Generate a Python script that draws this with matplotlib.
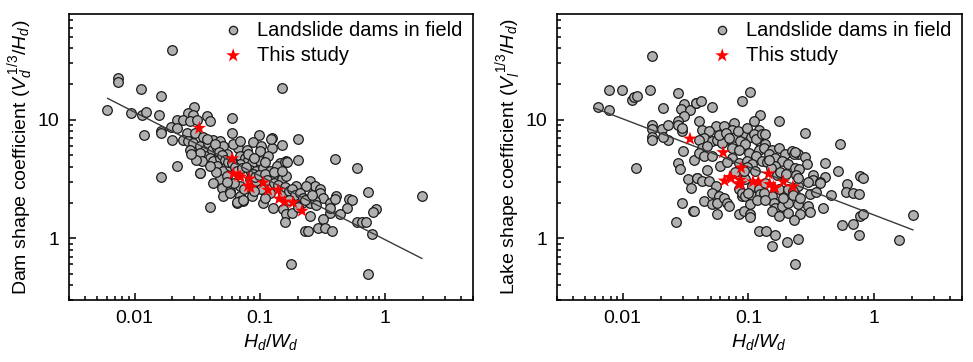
import numpy as np
import matplotlib
matplotlib.use("Agg")
import matplotlib.pyplot as plt
from matplotlib.ticker import LogLocator, FuncFormatter, NullFormatter

plt.rcParams['font.family'] = ['Liberation Sans', 'DejaVu Sans']
plt.rcParams['mathtext.fontset'] = 'custom'
plt.rcParams['mathtext.rm'] = 'Liberation Sans'
plt.rcParams['mathtext.it'] = 'Liberation Sans:italic'

# ---- left panel: dam shape coefficient ----
dam_field_x = [0.02, 0.0074, 0.0074, 0.0113, 0.0164, 0.15, 0.006, 0.0093, 0.0115, 0.0123, 0.0158,
               0.022, 0.0197, 0.022, 0.0162, 0.0162, 0.012, 0.0198, 0.0217, 0.0164, 0.033, 0.04,
               0.0299, 0.0269, 0.0295, 0.0245, 0.0277, 0.0313, 0.0377, 0.040, 0.0596, 0.0261, 0.0304,
               0.0245, 0.0269, 0.0295, 0.0277, 0.0596, 0.0988, 0.124, 0.0875, 0.103, 0.124, 0.0333,
               0.0365, 0.0425, 0.0481, 0.0388, 0.0412, 0.0452, 0.051, 0.0365, 0.040, 0.0333, 0.0343,
               0.0425, 0.0481, 0.0543, 0.0673, 0.0694, 0.0783, 0.100, 0.076, 0.0808, 0.0859, 0.100,
               0.1165, 0.144, 0.163, 0.0333, 0.0452, 0.051, 0.0577, 0.0694, 0.0833, 0.094, 0.106,
               0.120, 0.136, 0.0481, 0.0543, 0.0425, 0.0495, 0.0577, 0.0694, 0.0833, 0.094, 0.113,
               0.128, 0.149, 0.163, 0.051, 0.0694, 0.0859, 0.103, 0.120, 0.153,
               0.25, 0.274, 0.30, 0.235, 0.196, 0.30, 0.319, 0.36, 0.407, 0.196, 0.215, 0.25, 0.274,
               0.36, 0.25, 0.319, 0.291, 0.329, 0.228, 0.243, 0.0694, 0.0652, 0.0737, 0.106, 0.128,
               0.153, 0.163, 0.179, 0.158, 0.0577, 0.066, 0.074,
               0.177, 0.736, 1.97, 0.736, 0.85, 0.8, 0.78, 0.594, 0.395, 0.2, 0.158, 0.165, 0.15,
               0.2, 0.123, 0.514, 0.546, 0.395, 0.495, 0.439, 0.595, 0.656, 0.698, 0.379, 0.36,
               0.035, 0.038, 0.044, 0.047, 0.050, 0.053, 0.056, 0.060, 0.063, 0.066, 0.072, 0.078,
               0.088, 0.092, 0.098, 0.110, 0.115, 0.130, 0.140, 0.160, 0.170, 0.180, 0.190, 0.210,
               0.220, 0.230, 0.260, 0.280, 0.200, 0.170, 0.110, 0.090, 0.075, 0.062, 0.055, 0.045,
               0.040, 0.031, 0.028, 0.061, 0.070, 0.080, 0.090, 0.110, 0.130, 0.150]
dam_field_y = [39, 22.5, 21, 18.3, 15.8, 18.5, 12.2, 11.3, 10.9, 11.6, 10.9,
               10, 8.7, 8.5, 8.0, 7.7, 7.4, 6.8, 4.05, 3.3, 3.55, 1.85,
               12.8, 11.4, 11.0, 10.0, 9.7, 10.0, 10.8, 9.7, 10.3, 7.7, 7.7,
               6.8, 6.6, 6.4, 5.6, 7.7, 7.5, 7.0, 6.45, 6.0, 5.8, 6.0,
               5.6, 6.8, 6.6, 6.4, 5.6, 5.8, 6.0, 4.9, 4.8, 5.25, 4.5,
               4.5, 4.8, 5.1, 5.8, 4.9, 5.6, 5.4, 4.8, 4.6, 4.3, 4.5,
               4.9, 4.3, 4.5, 3.56, 4.06, 3.68, 4.06, 4.2, 3.8, 3.68, 3.93,
               3.68, 4.06, 3.13, 3.34, 2.94, 2.67, 2.5, 2.75, 3.13, 3.03, 3.24,
               3.13, 3.13, 3.34, 2.27, 2.27, 2.27, 2.58, 2.42, 2.34,
               3.03, 2.75, 2.58, 2.75, 2.75, 2.42, 2.2, 2.0, 2.27, 2.06, 2.0, 2.0, 2.06,
               1.64, 1.54, 1.45, 1.23, 1.23, 1.15, 1.15, 2.06, 2.0, 2.06, 2.0, 1.81,
               1.75, 1.59, 1.64, 1.36, 2.42, 2.03, 2.1,
               0.60, 0.50, 2.27, 2.45, 1.75, 1.65, 1.08, 3.93, 4.67, 4.55, 4.4, 4.4, 6.1,
               6.9, 6.9, 2.15, 2.1, 2.13, 1.79, 1.59, 1.38, 1.38, 1.38, 1.15, 1.8,
               7.2, 6.9, 6.2, 5.3, 5.0, 4.6, 4.4, 4.3, 4.0, 3.7, 3.9, 4.0,
               3.5, 3.3, 3.4, 3.5, 3.1, 2.9, 2.8, 2.7, 2.5, 2.6, 2.3, 2.4,
               2.2, 2.1, 2.3, 1.9, 1.85, 2.1, 2.2, 2.5, 2.6, 2.9, 3.0, 3.6,
               4.1, 4.6, 5.1, 6.2, 6.6, 5.1, 4.8, 4.4, 3.6, 3.7]
dam_study_x = [0.0329, 0.0603, 0.0614, 0.0673, 0.0702, 0.0822, 0.0807, 0.0843, 0.1064, 0.1165,
               0.140, 0.1426, 0.158, 0.184, 0.217]
dam_study_y = [8.5, 4.7, 3.5, 3.38, 3.3, 3.17, 2.75, 2.67, 2.94, 2.55,
               2.55, 2.15, 2.03, 2.0, 1.70]
dam_fit = (0.97, -0.539)        # y = a * x**b
dam_fit_range = (0.0061, 1.96)

# ---- right panel: lake shape coefficient ----
lake_field_x = [0.0171, 0.0078, 0.0098, 0.0119, 0.0122, 0.0130, 0.0166, 0.0274, 0.031, 0.0291,
                0.0343, 0.0383, 0.031, 0.0063, 0.0078, 0.0209, 0.017, 0.017, 0.017, 0.017, 0.0206,
                0.0228, 0.0228, 0.0209, 0.0274, 0.0274, 0.0297, 0.0297, 0.0304, 0.0274, 0.0286,
                0.0127, 0.0329, 0.035, 0.0387, 0.0297, 0.036, 0.0266, 0.0372,
                0.1037, 0.038, 0.0417, 0.0515, 0.0891, 0.0405, 0.0548, 0.0638, 0.0766, 0.1245, 0.110,
                0.121, 0.174, 0.0743, 0.0789, 0.0918, 0.104, 0.043, 0.0485, 0.0443, 0.0405, 0.0515,
                0.0565, 0.0652, 0.062, 0.0865, 0.0947, 0.121, 0.136, 0.121, 0.132, 0.154, 0.174,
                0.196, 0.222, 0.25, 0.0743, 0.084, 0.1007, 0.114, 0.145, 0.164, 0.185, 0.043, 0.0471,
                0.0405, 0.0443, 0.0515, 0.0743, 0.084, 0.0977, 0.107, 0.128, 0.164, 0.208, 0.236,
                0.0471, 0.0392, 0.043, 0.0485, 0.0548, 0.084, 0.0947, 0.107, 0.121, 0.136, 0.174,
                0.208, 0.236, 0.25, 0.0515, 0.0582, 0.0891, 0.154,
                0.0443, 0.0515, 0.0565, 0.0638, 0.0678, 0.0698, 0.0565, 0.0369, 0.084, 0.0918, 0.1037,
                0.1037, 0.0891, 0.0947, 0.107, 0.1245, 0.132, 0.1037, 0.159, 0.164, 0.185, 0.208,
                0.154, 0.174, 0.208, 0.25, 0.121, 0.138, 0.164, 0.154, 0.202, 0.247, 0.233,
                0.283, 0.534, 0.23, 0.236, 0.281, 0.294, 0.407, 0.253, 0.24, 0.25, 0.329, 0.329,
                0.407, 0.513, 0.771, 0.819, 0.372, 0.372, 0.30, 0.615, 0.226, 0.226, 0.26, 0.31,
                0.348, 0.30, 0.31, 0.257, 0.395, 0.454, 0.6, 0.685, 0.76, 0.775, 0.82, 0.23,
                0.561, 0.675, 0.76, 1.57, 2.04,
                0.058, 0.066, 0.070, 0.082, 0.097, 0.110, 0.115, 0.128, 0.136, 0.098, 0.112,
                0.142, 0.152, 0.168, 0.180, 0.060, 0.068, 0.078, 0.092, 0.100, 0.118, 0.135,
                0.145, 0.190, 0.200]
lake_field_y = [34.8, 17.9, 17.9, 14.7, 15.5, 15.8, 17.9, 16.7, 13.6, 12.4,
                12.1, 13.8, 10.7, 12.8, 12.2, 12.5, 9.1, 8.4, 7.15, 6.7, 8.4,
                9.0, 6.7, 7.2, 9.7, 9.0, 8.1, 8.5, 5.5, 4.35, 3.85,
                3.9, 3.13, 2.63, 3.2, 2.0, 1.7, 1.36, 4.6,
                17.0, 13.8, 14.3, 12.9, 14.3, 9.7, 8.8, 8.8, 9.38, 11.0, 9.7,
                8.2, 9.7, 8.2, 7.2, 7.7, 7.2, 8.2, 8.0, 7.0, 6.8, 6.6,
                6.8, 6.8, 6.4, 6.6, 6.2, 6.6, 6.2, 5.6, 5.8, 5.6, 5.8,
                5.1, 5.4, 5.1, 5.8, 5.6, 5.25, 4.92, 5.1, 4.77, 4.47, 5.8, 5.97,
                5.25, 4.92, 4.92, 4.77, 4.33, 4.47, 4.19, 4.47, 4.06, 4.19, 3.93,
                3.8, 3.24, 3.03, 3.03, 2.75, 2.58, 3.13, 2.75, 2.58, 2.94, 2.58,
                2.58, 2.34, 2.75, 2.42, 2.27, 2.27, 2.27,
                2.06, 1.93, 2.0, 2.2, 2.0, 1.87, 1.59, 1.70, 1.59, 1.70, 1.59,
                1.5, 2.42, 2.27, 2.27, 2.34, 2.42, 1.93, 2.0, 1.81, 1.87, 2.0,
                1.70, 1.54, 1.64, 1.93, 1.15, 1.15, 1.06, 0.86, 0.93, 0.98, 0.605,
                7.7, 6.3, 5.1, 5.3, 4.85, 4.27, 4.33, 3.85, 3.4, 3.2, 3.43, 3.1,
                3.3, 3.68, 3.34, 3.24, 2.97, 2.9, 2.96, 2.84, 2.5, 2.3, 2.2, 2.35,
                2.45, 1.87, 1.66, 1.61, 1.81, 2.3, 2.47, 2.42, 2.35, 1.54, 1.59, 1.42,
                1.28, 1.33, 1.06, 0.97, 1.57,
                7.5, 7.8, 7.0, 8.0, 8.5, 7.6, 6.9, 7.6, 7.6, 4.0, 3.7,
                4.4, 3.9, 3.4, 3.6, 4.1, 4.4, 3.6, 3.7, 2.4, 2.1, 2.1,
                4.6, 2.2, 3.5]
lake_study_x = [0.0343, 0.063, 0.0646, 0.071, 0.073, 0.0875, 0.086, 0.087, 0.084, 0.109, 0.12,
                0.145, 0.148, 0.158, 0.163, 0.19, 0.226]
lake_study_y = [6.9, 5.3, 3.05, 3.27, 3.2, 3.93, 3.1, 2.9, 2.85, 3.0, 3.0,
                3.5, 2.85, 2.7, 2.65, 3.0, 2.72]
lake_fit = (1.57, -0.406)
lake_fit_range = (0.006, 2.04)

xticks = [0.01, 0.1, 1]
yticks = [1, 10]


def draw(ax, fx, fy, sx, sy, fit, rng, ylabel):
    ax.scatter(fx, fy, s=48, facecolor='#b0b0b0', edgecolor='#1a1a1a', linewidths=0.9,
               label='Landslide dams in field', zorder=2)
    xl = np.array(rng)
    ax.plot(xl, fit[0] * xl ** fit[1], color='#3a3a3a', lw=1.0, zorder=3)
    ax.scatter(sx, sy, s=110, marker='*', color='red', edgecolor='none',
               label='This study', zorder=4)
    ax.set_xscale('log')
    ax.set_yscale('log')
    ax.set_xlim(0.003, 5)
    ax.set_ylim(0.3, 78)
    ax.set_xticks(xticks)
    ax.set_yticks(yticks)
    fmt = FuncFormatter(lambda v, p: '%g' % v)
    ax.xaxis.set_major_formatter(fmt)
    ax.yaxis.set_major_formatter(fmt)
    ax.xaxis.set_minor_locator(LogLocator(base=10, subs=np.arange(2, 10)))
    ax.yaxis.set_minor_locator(LogLocator(base=10, subs=np.arange(2, 10)))
    ax.xaxis.set_minor_formatter(NullFormatter())
    ax.yaxis.set_minor_formatter(NullFormatter())
    ax.tick_params(which='both', direction='in', top=False, right=False, labelsize=14, width=1.1)
    ax.tick_params(which='major', length=5, pad=7)
    ax.tick_params(which='minor', length=3)
    for sp in ax.spines.values():
        sp.set_linewidth(1.2)
    ax.set_xlabel('$H_d/W_d$', fontsize=14, labelpad=4)
    ax.set_ylabel(ylabel, fontsize=14, labelpad=2)
    leg = ax.legend(loc='upper right', bbox_to_anchor=(1.0, 1.012), frameon=False,
                    fontsize=14.5, handletextpad=0.2, borderaxespad=0.1,
                    labelspacing=0.3, scatterpoints=1)
    leg.legend_handles[0].set_sizes([36])


fig = plt.figure(figsize=(9.73, 3.62), dpi=100)
ax1 = fig.add_axes([0.0709, 0.171, 0.415, 0.790])
ax2 = fig.add_axes([0.5725, 0.171, 0.416, 0.790])

draw(ax1, dam_field_x, dam_field_y, dam_study_x, dam_study_y, dam_fit, dam_fit_range,
     'Dam shape coefficient ($V_d^{\\,1/3}/H_d$)')
draw(ax2, lake_field_x, lake_field_y, lake_study_x, lake_study_y, lake_fit, lake_fit_range,
     'Lake shape coefficient ($V_l^{\\,1/3}/H_d$)')

fig.savefig('out.png', dpi=100)
